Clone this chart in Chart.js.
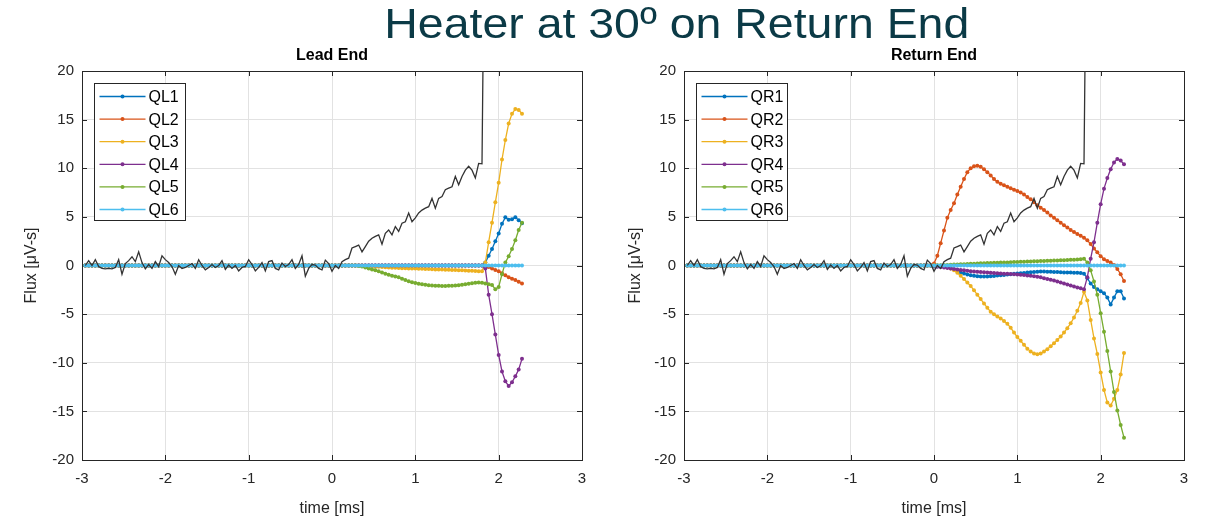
<!DOCTYPE html>
<html>
<head>
<meta charset="utf-8">
<script src="https://cdn.jsdelivr.net/npm/chart.js@4.4.1/dist/chart.umd.min.js"></script>
<style>
  body { margin: 0; background: #fff; width: 1211px; height: 520px; position: relative; overflow: hidden; }
  canvas { position: absolute; top: 0; }
  #lead { left: 0; }
  #ret { left: 605px; }
  #title {
    position: absolute; top: 2px; left: 0; width: 1211px; text-align: center;
    font-family: "Liberation Sans", Arial, sans-serif; font-size: 43px; line-height: 43px;
    color: #0b3a46; white-space: nowrap;
  }
  #title span { display: inline-block; transform: scaleX(1.08); transform-origin: center; position: relative; left: 71px; }
</style>
</head>
<body>
<canvas id="lead" width="605" height="520"></canvas>
<canvas id="ret" width="606" height="520"></canvas>
<div id="title"><span>Heater at 30º on Return End</span></div>
<script>
// sample times [ms]
const timePre = [-2.96, -2.92, -2.88, -2.84, -2.8, -2.76, -2.72, -2.68, -2.64, -2.6,
  -2.56, -2.52, -2.48, -2.44, -2.4, -2.36, -2.32, -2.28, -2.24, -2.2,
  -2.16, -2.12, -2.08, -2.04, -2, -1.96, -1.92, -1.88, -1.84, -1.8,
  -1.76, -1.72, -1.68, -1.64, -1.6, -1.56, -1.52, -1.48, -1.44, -1.4,
  -1.36, -1.32, -1.28, -1.24, -1.2, -1.16, -1.12, -1.08, -1.04, -1,
  -0.96, -0.92, -0.88, -0.84, -0.8, -0.76, -0.72, -0.68, -0.64, -0.6,
  -0.56, -0.52, -0.48, -0.44, -0.4, -0.36, -0.32, -0.28, -0.24, -0.2,
  -0.16, -0.12, -0.08, -0.04];
const timePost = [0, 0.04, 0.08, 0.12, 0.16, 0.2, 0.24, 0.28, 0.32, 0.36,
  0.4, 0.44, 0.48, 0.52, 0.56, 0.6, 0.64, 0.68, 0.72, 0.76,
  0.8, 0.84, 0.88, 0.92, 0.96, 1, 1.04, 1.08, 1.12, 1.16,
  1.2, 1.24, 1.28, 1.32, 1.36, 1.4, 1.44, 1.48, 1.52, 1.56,
  1.6, 1.64, 1.68, 1.72, 1.76, 1.8, 1.84, 1.88, 1.92, 1.96,
  2, 2.04, 2.08, 2.12, 2.16, 2.2, 2.24, 2.28];
const time = timePre.concat(timePost);

// flux is flat before the heater fires
const flatPre = [0, 0, 0, 0, 0, 0, 0, 0, 0, 0, 0, 0, 0, 0, 0, 0, 0, 0, 0, 0,
  0, 0, 0, 0, 0, 0, 0, 0, 0, 0, 0, 0, 0, 0, 0, 0, 0, 0, 0, 0,
  0, 0, 0, 0, 0, 0, 0, 0, 0, 0, 0, 0, 0, 0, 0, 0, 0, 0, 0, 0,
  0, 0, 0, 0, 0, 0, 0, 0, 0, 0, 0, 0, 0, 0];

// black trace (same on both sides)
const blackPre = [0, 0.5, 0, 0.6, -0.1, -0.3, -0.35, -0.3, -0.35, -0.2,
  0.6, -0.9, 0.2, 0.5, 0.9, 0.4, 1.4, 0.3, -0.35, 0.1,
  -0.3, 0.4, -0.1, 1.0, 0.6, 0.3, -0.1, -0.9, 0, -0.3,
  -0.2, 0, 0.2, -0.3, 0.6, 0, -0.45, -0.2, 0.1, -0.2,
  0, 0.5, -0.4, 0.05, -0.3, 0, -0.55, -0.2, -0.1, 0.6,
  0.1, -0.55, -0.2, 0.3, -0.55, 0.4, 0.5, -0.3, -0.45, 0.25,
  -0.1, 0.1, 0.6, -0.3, 0.1, 1.0, -1.1, -0.3, 0.1, 0.05,
  -0.3, -0.45, 0.55, 0.2];
const blackPost = [-0.6, 0, -0.3, 0.4, 0.6, 0.75, 1.8, 1.95, 2.1, 1.4,
  1.95, 2.5, 2.8, 3.0, 3.15, 2.2, 3.3, 3.65, 3.15, 4.0,
  3.5, 4.35, 4.5, 5.4, 4.5, 4.9, 5.4, 5.7, 5.9, 6.05,
  6.9, 5.9, 6.9, 7.1, 7.8, 7.95, 8.1, 9.15, 8.3, 9.15,
  9.8, 10.2, 9.8, 9.0, 10.5, 10.45, 45];

// Lead End, from t = 0
const leadNames = ['QL1', 'QL2', 'QL3', 'QL4', 'QL5', 'QL6'];
const ql1 = [0, 0, 0, 0, 0, 0, 0, 0, 0, 0, 0, 0, 0, 0, 0, 0, 0, 0, 0, 0,
  0, 0, 0, 0, 0, 0, 0, 0, 0, 0, 0, 0, 0, 0, 0, 0, 0, 0, 0, 0,
  0, 0, 0, 0, 0, 0, 0.3, 1.0, 1.7, 2.5, 3.3, 4.3, 4.95, 4.7, 4.75, 4.95, 4.65, 4.35];
const ql2 = [0, 0, 0, 0, 0, 0, 0, 0, 0, 0, 0, 0, 0, 0, 0, 0, 0, 0, 0, 0,
  0, 0, 0, 0, 0, 0, 0, 0, 0, 0, 0, 0, 0, 0, 0, 0, 0, 0, 0, 0,
  0, 0, 0, 0, 0, 0, -0.05, -0.15, -0.3, -0.45, -0.6, -0.8, -1.0, -1.2, -1.35, -1.5, -1.68, -1.85];
const ql3 = [0, 0, 0, 0, 0, 0, 0, 0, 0, 0,
  -0.05, -0.08, -0.1, -0.12, -0.14, -0.16, -0.18, -0.2, -0.22, -0.24,
  -0.25, -0.27, -0.28, -0.3, -0.31, -0.32, -0.33, -0.34, -0.36, -0.37,
  -0.38, -0.4, -0.41, -0.42, -0.43, -0.44, -0.46, -0.47, -0.48, -0.5,
  -0.51, -0.53, -0.55, -0.57, -0.59, -0.6, 0.3, 2.4, 4.4, 6.5,
  8.5, 10.9, 12.9, 14.6, 15.6, 16.1, 16.0, 15.6];
const ql4 = [0, 0, 0, 0, 0, 0, 0, 0, 0, 0, 0, 0, 0, 0, 0, 0, 0, 0, 0, 0,
  0, 0, 0, 0, 0, 0, 0, 0, 0, 0, 0, 0, 0, 0, 0, 0, 0, 0, 0, 0,
  0, 0, 0, 0, 0, 0, -0.3, -3.0, -5.0, -7.1, -9.2, -10.9, -11.9, -12.4, -12.0, -11.4, -10.7, -9.6];
const ql5 = [0, 0, 0, 0, 0, 0, 0, 0, -0.05, -0.1,
  -0.2, -0.3, -0.4, -0.5, -0.6, -0.72, -0.84, -0.95, -1.05, -1.12,
  -1.2, -1.35, -1.5, -1.62, -1.72, -1.8, -1.87, -1.93, -1.98, -2.03,
  -2.06, -2.08, -2.09, -2.1, -2.1, -2.09, -2.08, -2.06, -2.03, -1.98,
  -1.92, -1.88, -1.83, -1.78, -1.75, -1.78, -1.85, -1.93, -2.0, -2.45,
  -2.2, -0.9, 0.3, 0.95, 1.7, 2.6, 3.65, 4.4];
const ql6 = [0, 0, 0, 0, 0, 0, 0, 0, 0, 0, 0, 0, 0, 0, 0, 0, 0, 0, 0, 0,
  0, 0, 0, 0, 0, 0, 0, 0, 0, 0, 0, 0, 0, 0, 0, 0, 0, 0, 0, 0,
  0, 0, 0, 0, 0, 0, 0, 0, 0, 0, 0, 0, 0, 0, 0, 0, 0, 0];

// Return End, from t = 0
const retNames = ['QR1', 'QR2', 'QR3', 'QR4', 'QR5', 'QR6'];
const qr1 = [0, -0.02, -0.05, -0.1, -0.18, -0.28, -0.4, -0.55, -0.7, -0.82,
  -0.92, -1.0, -1.06, -1.1, -1.12, -1.13, -1.12, -1.1, -1.07, -1.04,
  -1.0, -0.97, -0.93, -0.9, -0.86, -0.83, -0.8, -0.76, -0.72, -0.69,
  -0.66, -0.64, -0.62, -0.62, -0.63, -0.65, -0.67, -0.68, -0.7, -0.71,
  -0.72, -0.73, -0.74, -0.75, -0.77, -0.85, -1.3, -1.85, -2.2, -2.45,
  -2.65, -2.85, -3.3, -4.0, -3.3, -2.65, -2.65, -3.4];
const qr2 = [0.2, 1.0, 2.3, 3.6, 4.9, 5.7, 6.4, 7.3, 8.1, 8.9,
  9.6, 10.0, 10.2, 10.25, 10.15, 9.9, 9.6, 9.25, 8.9, 8.6,
  8.4, 8.25, 8.1, 7.95, 7.8, 7.65, 7.5, 7.3, 7.05, 6.8,
  6.5, 6.2, 5.95, 5.7, 5.45, 5.15, 4.9, 4.65, 4.4, 4.15,
  3.9, 3.65, 3.45, 3.25, 3.05, 2.85, 2.6, 2.2, 1.75, 1.35,
  0.95, 0.65, 0.45, 0.3, 0.05, -0.35, -0.9, -1.6];
const qr3 = [0, 0, -0.02, -0.08, -0.18, -0.32, -0.5, -0.75, -1.05, -1.4,
  -1.75, -2.1, -2.55, -3.0, -3.45, -3.9, -4.35, -4.75, -5.0, -5.25,
  -5.45, -5.7, -6.0, -6.4, -6.9, -7.35, -7.75, -8.15, -8.55, -8.85,
  -9.05, -9.12, -9.05, -8.85, -8.6, -8.3, -8.0, -7.65, -7.3, -6.9,
  -6.45, -5.95, -5.35, -4.65, -3.85, -2.7, -3.6, -5.6, -7.5, -9.1,
  -11.0, -12.8, -14.1, -14.4, -13.7, -12.8, -11.2, -9.0];
const qr4 = [-0.1, -0.12, -0.15, -0.2, -0.25, -0.3, -0.35, -0.4, -0.45, -0.5,
  -0.55, -0.58, -0.62, -0.65, -0.68, -0.7, -0.72, -0.75, -0.78, -0.8,
  -0.82, -0.84, -0.86, -0.88, -0.9, -0.92, -0.95, -0.98, -1.02, -1.06,
  -1.1, -1.15, -1.22, -1.3, -1.38, -1.46, -1.55, -1.65, -1.75, -1.85,
  -1.95, -2.05, -2.15, -2.25, -2.35, -2.45, -1.2, 0.7, 2.4, 4.4,
  6.3, 7.9, 9.0, 9.9, 10.6, 10.95, 10.8, 10.4];
const qr5 = [0, 0.02, 0.03, 0.05, 0.06, 0.08, 0.1, 0.11, 0.13, 0.14,
  0.16, 0.17, 0.19, 0.2, 0.22, 0.23, 0.25, 0.26, 0.27, 0.29,
  0.3, 0.31, 0.32, 0.34, 0.35, 0.36, 0.38, 0.39, 0.4, 0.42,
  0.43, 0.44, 0.46, 0.47, 0.48, 0.5, 0.51, 0.52, 0.54, 0.55,
  0.57, 0.58, 0.6, 0.62, 0.65, 0.7, 0.3, -0.5, -1.65, -3.0,
  -4.9, -6.8, -8.8, -10.9, -13.0, -14.9, -16.4, -17.7];
const qr6 = [0, 0, 0, 0, 0, 0, 0, 0, 0, 0, 0, 0, 0, 0, 0, 0, 0, 0, 0, 0,
  0, 0, 0, 0, 0, 0, 0, 0, 0, 0, 0, 0, 0, 0, 0, 0, 0, 0, 0, 0,
  0, 0, 0, 0, 0, 0, 0, 0, 0, 0, 0, 0, 0, 0, 0, 0, 0, 0];

const xTicks = [-3, -2, -1, 0, 1, 2, 3];
const yTicks = [-20, -15, -10, -5, 0, 5, 10, 15, 20];

const colors = ['#0072BD', '#D95319', '#EDB120', '#7E2F8E', '#77AC30', '#4DBEEE'];
const axisColor = '#262626';

Chart.defaults.font.family = '"Liberation Sans", Arial, sans-serif';
Chart.defaults.color = axisColor;

function pts(vals) {
  return vals.map((v, i) => ({ x: time[i], y: v }));
}

// box round the axes with small inward ticks
const boxPlugin = {
  id: 'box',
  beforeDatasetsDraw(chart) {
    const ctx = chart.ctx, a = chart.chartArea;
    const xs = chart.scales.x, ys = chart.scales.y;
    ctx.save();
    ctx.strokeStyle = axisColor;
    ctx.lineWidth = 1;
    ctx.beginPath();
    xTicks.forEach(t => {
      const px = Math.round(xs.getPixelForValue(t)) + 0.5;
      ctx.moveTo(px, a.bottom); ctx.lineTo(px, a.bottom - 5);
      ctx.moveTo(px, a.top); ctx.lineTo(px, a.top + 5);
    });
    yTicks.forEach(t => {
      const py = Math.round(ys.getPixelForValue(t)) + 0.5;
      ctx.moveTo(a.left, py); ctx.lineTo(a.left + 5, py);
      ctx.moveTo(a.right, py); ctx.lineTo(a.right - 5, py);
    });
    ctx.stroke();
    ctx.strokeRect(Math.round(a.left) + 0.5, Math.round(a.top) + 0.5,
      Math.round(a.right - a.left), Math.round(a.bottom - a.top));
    ctx.restore();
  }
};

function legendPlugin(names) {
  return {
    id: 'mlLegend',
    afterDatasetsDraw(chart) {
      const ctx = chart.ctx, a = chart.chartArea;
      const x0 = Math.round(a.left + 12) + 0.5, y0 = Math.round(a.top + 12) + 0.5;
      const w = 91, h = 137;
      ctx.save();
      ctx.fillStyle = '#fff';
      ctx.fillRect(x0, y0, w, h);
      ctx.strokeStyle = axisColor;
      ctx.lineWidth = 1;
      ctx.strokeRect(x0, y0, w, h);
      ctx.font = '16px "Liberation Sans", Arial, sans-serif';
      ctx.textBaseline = 'middle';
      names.forEach((n, i) => {
        const y = y0 + 13 + i * 22.6;
        ctx.strokeStyle = colors[i];
        ctx.lineWidth = 1.3;
        ctx.beginPath();
        ctx.moveTo(x0 + 5, y); ctx.lineTo(x0 + 51, y);
        ctx.stroke();
        ctx.fillStyle = colors[i];
        ctx.beginPath();
        ctx.arc(x0 + 28, y, 2, 0, Math.PI * 2);
        ctx.fill();
        ctx.fillStyle = '#000';
        ctx.fillText(n, x0 + 54, y + 1);
      });
      ctx.restore();
    }
  };
}

function makeChart(id, title, names, series, yWidth, padRight, yTitlePad) {
  const datasets = names.map((n, i) => ({
    label: n,
    data: pts(flatPre.concat(series[i])),
    borderColor: colors[i],
    backgroundColor: colors[i],
    borderWidth: 1.3,
    pointRadius: 2,
    pointBorderWidth: 0,
    pointBackgroundColor: colors[i],
    order: 6 - i
  }));
  datasets.push({
    label: '',
    data: pts(blackPre.concat(blackPost)),
    borderColor: '#333333',
    borderWidth: 1.3,
    pointRadius: 0,
    order: -1
  });

  return new Chart(document.getElementById(id), {
    type: 'line',
    data: { datasets },
    options: {
      responsive: false,
      animation: false,
      events: [],
      layout: { padding: { left: 0, right: padRight, top: 0, bottom: 0 } },
      plugins: {
        legend: { display: false },
        tooltip: { enabled: false },
        title: {
          display: true,
          text: title,
          fullSize: false,
          color: '#000',
          font: { size: 16, weight: 'bold' },
          padding: { top: 46, bottom: 5.8 }
        }
      },
      scales: {
        x: {
          type: 'linear',
          min: -3, max: 3,
          afterBuildTicks: s => { s.ticks = xTicks.map(v => ({ value: v })); },
          afterFit: s => { s.height = 60; },
          ticks: { color: axisColor, font: { size: 15 }, padding: 10, maxRotation: 0, autoSkip: false },
          grid: { color: '#e2e2e2', drawTicks: false },
          border: { display: false },
          title: { display: true, text: 'time [ms]', color: axisColor, font: { size: 16 }, padding: 2 }
        },
        y: {
          type: 'linear',
          min: -20, max: 20,
          afterBuildTicks: s => { s.ticks = yTicks.map(v => ({ value: v })); },
          afterFit: s => { s.width = yWidth; },
          ticks: { color: axisColor, font: { size: 15 }, padding: 8 },
          grid: { color: '#e2e2e2', drawTicks: false },
          border: { display: false },
          title: { display: true, text: 'Flux [μV-s]', color: axisColor, font: { size: 16 }, padding: yTitlePad }
        }
      }
    },
    plugins: [boxPlugin, legendPlugin(names)]
  });
}

makeChart('lead', 'Lead End', leadNames, [ql1, ql2, ql3, ql4, ql5, ql6], 82, 23, 22);
makeChart('ret', 'Return End', retNames, [qr1, qr2, qr3, qr4, qr5, qr6], 79, 27, 21);
</script>
</body>
</html>
